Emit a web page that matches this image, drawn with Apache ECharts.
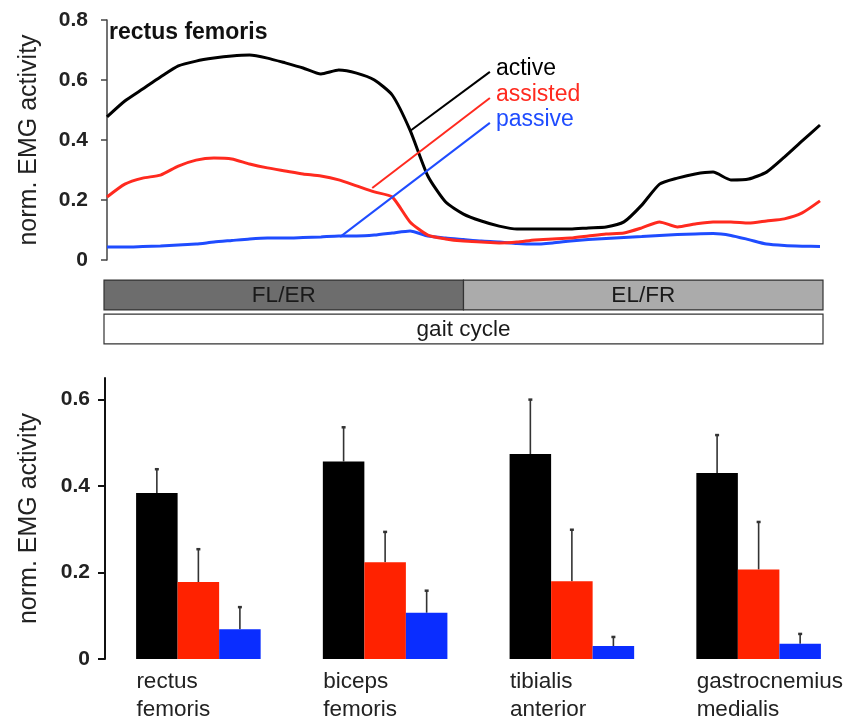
<!DOCTYPE html>
<html><head><meta charset="utf-8">
<script src="https://cdn.jsdelivr.net/npm/echarts@6/dist/echarts.min.js"></script>
<style>html,body{margin:0;padding:0;background:#fff}#c{width:857px;height:716px}</style>
</head><body><div id="c"></div>
<script>
// ---- data ----
const gaitPct = [0,2.5,5,7.5,10,12.5,15,17.5,20,22.5,25,27.5,30,32.5,35,37.5,40,42.5,45,47.5,50,52.5,55,57.5,60,62.5,65,67.5,70,72.5,75,77.5,80,82.5,85,87.5,90,92.5,95,97.5,100];
const activeEMG = [0.477,0.53,0.57,0.61,0.647,0.663,0.673,0.68,0.683,0.673,0.657,0.64,0.62,0.633,0.623,0.60,0.55,0.433,0.28,0.193,0.153,0.13,0.113,0.103,0.103,0.103,0.103,0.107,0.11,0.127,0.183,0.253,0.273,0.287,0.293,0.267,0.27,0.293,0.343,0.397,0.45];
const assistedEMG = [0.21,0.253,0.273,0.283,0.313,0.333,0.34,0.337,0.32,0.307,0.297,0.287,0.28,0.267,0.247,0.227,0.21,0.127,0.083,0.07,0.063,0.06,0.057,0.06,0.067,0.07,0.073,0.08,0.087,0.09,0.107,0.127,0.11,0.12,0.127,0.127,0.123,0.13,0.137,0.157,0.197];
const passiveEMG = [0.043,0.043,0.045,0.047,0.05,0.053,0.06,0.065,0.07,0.073,0.073,0.075,0.077,0.08,0.08,0.083,0.09,0.097,0.08,0.073,0.068,0.063,0.06,0.055,0.053,0.057,0.063,0.068,0.072,0.075,0.078,0.082,0.085,0.087,0.088,0.082,0.068,0.053,0.048,0.046,0.045];
const conditions = ['active','assisted','passive'];
// legend leader lines (start/end in data coords: [gait %, EMG])
const leaderStart = [[42.5,0.43],[37.2,0.24],[32.7,0.077]];
const leaderEnd = [[53.7,0.627],[53.7,0.54],[53.7,0.457]];
// gait phases
const phaseNames = ['FL/ER','EL/FR'];
const phaseStart = [0,50];
const phaseEnd = [50,100];
const cycleName = 'gait cycle';
// bar chart
const muscles = ['rectus\nfemoris','biceps\nfemoris','tibialis\nanterior','gastrocnemius\nmedialis'];
const barActive = [0.384,0.457,0.474,0.430];
const barAssisted = [0.178,0.224,0.180,0.207];
const barPassive = [0.069,0.107,0.030,0.035];
const errActive = [0.439,0.536,0.600,0.518];
const errAssisted = [0.254,0.294,0.299,0.317];
const errPassive = [0.120,0.158,0.051,0.058];

// ---- styles ----
const FONT = '"Liberation Sans", Arial, Helvetica, sans-serif';
const lineColors = ['#000000','#ff2a1f','#1f4cff'];
const barColors = ['#000000','#ff2200','#0a2dff'];

const chart = echarts.init(document.getElementById('c'));

function lineSeries(k, vals){
  return {
    type:'line', name:conditions[k], xAxisIndex:0, yAxisIndex:0,
    data: gaitPct.map((p,i)=>[p, vals[i]]),
    showSymbol:false, smooth:0.2, lineStyle:{color:lineColors[k], width:3}, itemStyle:{color:lineColors[k]},
    z: 3-k,
    markLine:{silent:true, symbol:['none','none'], label:{show:false},
      lineStyle:{color:lineColors[k], width:2, type:'solid'},
      data:[[{coord:leaderStart[k]},{coord:leaderEnd[k]}]]},
    markPoint:{silent:true, symbol:'circle', symbolSize:0,
      data:[{coord:leaderEnd[k]}],
      label:{show:true, position:'right', distance:6, offset:[0,-3], formatter:conditions[k],
        color:lineColors[k], fontSize:23, fontFamily:FONT}}
  };
}

const errData = [];
[errActive, errAssisted, errPassive].forEach((arr,k)=>{
  const means = [barActive,barAssisted,barPassive][k];
  arr.forEach((e,i)=>errData.push([i, means[i], e, k]));
});

const option = {
  animation:false,
  textStyle:{fontFamily:FONT},
  title:{text:'rectus femoris', left:104, top:16, textStyle:{fontSize:23, fontWeight:'bold', color:'#111', fontFamily:FONT}},
  grid:[
    {left:107, right:37, top:20, height:240, outerBoundsMode:'none', containLabel:false},
    {left:104, right:34, top:278, height:68, outerBoundsMode:'none', containLabel:false},
    {left:105, right:5, top:378, bottom:57, outerBoundsMode:'none', containLabel:false}
  ],
  xAxis:[
    {gridIndex:0, type:'value', min:0, max:100, show:false},
    {gridIndex:1, type:'value', min:0, max:100, show:false},
    {gridIndex:2, type:'category', data:muscles,
      axisLine:{show:false}, axisTick:{show:false},
      axisLabel:{margin:9, formatter:function(v){return v.split('\n').map(s=>'{a|'+s+'}').join('\n');},
        rich:{a:{width:124, align:'left', fontSize:22.5, lineHeight:28, color:'#222', fontFamily:FONT}}}}
  ],
  yAxis:[
    {gridIndex:0, type:'value', min:0, max:0.8, interval:0.2, offset:7,
      name:'norm. EMG activity', nameLocation:'middle', nameGap:58,
      nameTextStyle:{fontSize:25, color:'#222', fontFamily:FONT},
      axisLine:{show:true, lineStyle:{color:'#444', width:1.5}},
      axisTick:{show:true, length:6, lineStyle:{color:'#444', width:1.5}},
      axisLabel:{fontSize:21, fontWeight:'bold', color:'#222', margin:12, formatter:v=>v===0?'0':v.toFixed(1)},
      splitLine:{show:false}},
    {gridIndex:1, type:'category', data:['phase','cycle'], inverse:true, show:false},
    {gridIndex:2, type:'value', min:0, max:0.65, interval:0.2,
      name:'norm. EMG activity', nameLocation:'middle', nameGap:63,
      nameTextStyle:{fontSize:25, color:'#222', fontFamily:FONT},
      axisLine:{show:true, lineStyle:{color:'#111', width:2}},
      axisTick:{show:true, length:7, lineStyle:{color:'#111', width:2}},
      axisLabel:{fontSize:21, fontWeight:'bold', color:'#222', margin:15, showMaxLabel:false, formatter:v=>v===0?'0':v.toFixed(1)},
      splitLine:{show:false}}
  ],
  series:[
    lineSeries(2, passiveEMG),
    lineSeries(1, assistedEMG),
    lineSeries(0, activeEMG),
    {type:'custom', xAxisIndex:1, yAxisIndex:1, silent:true,
      data: phaseNames.map((n,i)=>[phaseStart[i], phaseEnd[i], 0, n]).concat([[0,100,1,cycleName]]),
      renderItem:function(params, api){
        const s = api.value(0), e = api.value(1), row = api.value(2);
        const p1 = api.coord([s, row]), p2 = api.coord([e, row]);
        const band = api.size([0,1])[1];
        const h = band*0.88;
        const fill = row===0 ? (s===0 ? '#6d6d6d' : '#ababab') : '#ffffff';
        return {type:'group', children:[
          {type:'rect', shape:{x:p1[0], y:p1[1]-h/2, width:p2[0]-p1[0], height:h},
            style:{fill:fill, stroke:'#333', lineWidth:1.2}},
          {type:'text', style:{text:api.value(3), x:(p1[0]+p2[0])/2, y:p1[1]+1, align:'center', verticalAlign:'middle',
            fill:'#1a1a1a', fontSize:22.5, fontFamily:FONT}}
        ]};
      }
    },
    {type:'bar', name:'active', xAxisIndex:2, yAxisIndex:2, data:barActive, barGap:'0%', barCategoryGap:'33.3%', itemStyle:{color:barColors[0]}},
    {type:'bar', name:'assisted', xAxisIndex:2, yAxisIndex:2, data:barAssisted, barGap:'0%', barCategoryGap:'33.3%', itemStyle:{color:barColors[1]}},
    {type:'bar', name:'passive', xAxisIndex:2, yAxisIndex:2, data:barPassive, barGap:'0%', barCategoryGap:'33.3%', itemStyle:{color:barColors[2]}},
    {type:'custom', xAxisIndex:2, yAxisIndex:2, silent:true, z:1, data:errData,
      renderItem:function(params, api){
        const i = api.value(0), m = api.value(1), e = api.value(2), k = api.value(3);
        const band = api.size([1,0])[0];
        const bw = band*(1-0.333)/3;
        const b = api.coord([i, m]), t = api.coord([i, e]);
        const x = b[0] + (k-1)*bw;
        return {type:'group', children:[
          {type:'line', shape:{x1:x, y1:b[1], x2:x, y2:t[1]}, style:{stroke:'#333', lineWidth:1.6}},
          {type:'line', shape:{x1:x-2, y1:t[1], x2:x+2, y2:t[1]}, style:{stroke:'#333', lineWidth:2.5}}
        ]};
      }
    }
  ]
};
chart.setOption(option);
</script></body></html>
